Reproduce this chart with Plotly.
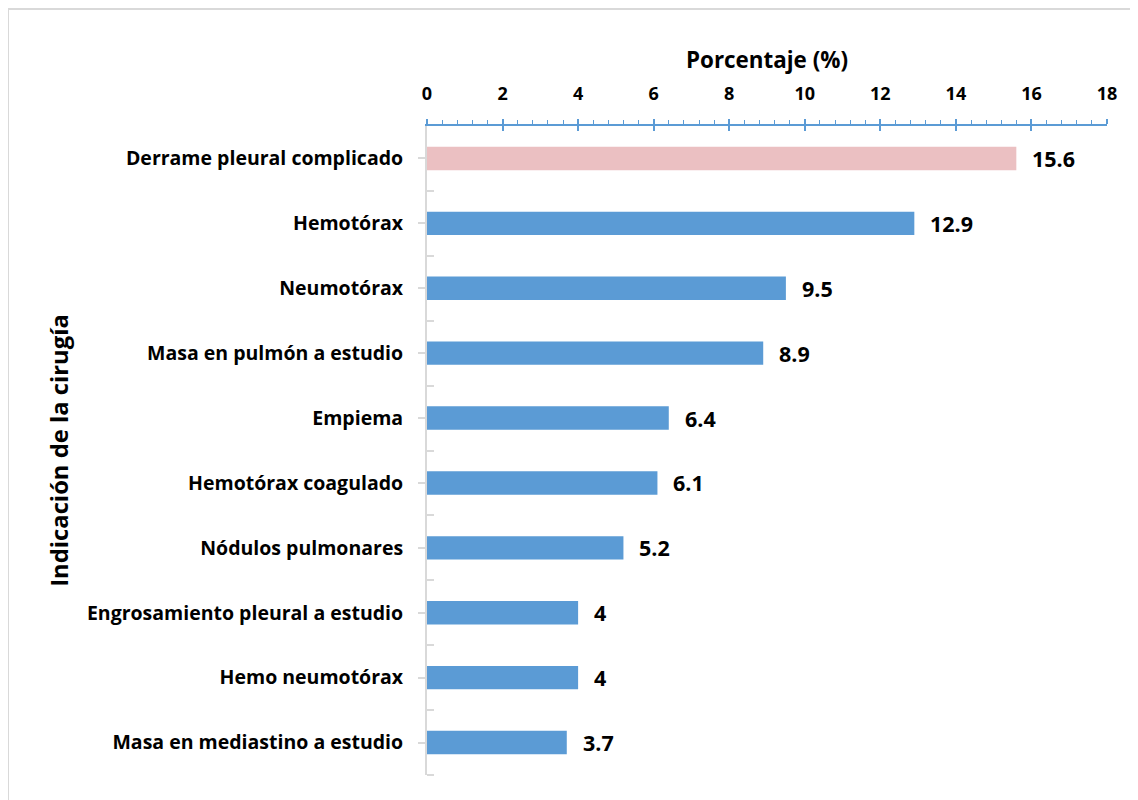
import plotly.graph_objects as go

categories = ["Derrame pleural complicado", "Hemotórax", "Neumotórax", "Masa en pulmón a estudio",
              "Empiema", "Hemotórax coagulado", "Nódulos pulmonares",
              "Engrosamiento pleural a estudio", "Hemo neumotórax", "Masa en mediastino a estudio"]
values = [15.6, 12.9, 9.5, 8.9, 6.4, 6.1, 5.2, 4, 4, 3.7]
value_labels = ["15.6", "12.9", "9.5", "8.9", "6.4", "6.1", "5.2", "4", "4", "3.7"]
x_ticks = [0, 2, 4, 6, 8, 10, 12, 14, 16, 18]

FONT = "Open Sans"
TFONT = "Liberation Sans, Arial, sans-serif"
BLUE = "#5B9BD5"
PINK = "#EBC0C2"
colors = [PINK] + [BLUE] * (len(values) - 1)
pos = list(range(len(categories)))

fig = go.Figure()
fig.add_trace(go.Bar(
    x=values, y=pos, orientation="h", width=0.36,
    marker=dict(color=colors, line=dict(width=0)),
    hoverinfo="skip", showlegend=False,
))
for v, p, t in zip(values, pos, value_labels):
    fig.add_annotation(x=v, y=p, text=t, showarrow=False, xanchor="left", xshift=14,
                       font=dict(family=FONT, size=21.5, color="black", weight="bold"))

# page body has an 8px margin, so the figure is drawn 8px in from the top-left
OFF = 8
W, H = 1138 - OFF, 800 - OFF
L, R, T, B = 427 - OFF, 31, 126 - OFF, 25
pw, ph = W - L - R, H - T - B

fig.update_layout(
    width=W, height=H,
    margin=dict(l=L, r=R, t=T, b=B),
    paper_bgcolor="white", plot_bgcolor="white",
    font=dict(family=FONT, color="black"),
    xaxis=dict(
        side="top", range=[0, 18], tickvals=x_ticks,
        showgrid=False, zeroline=False,
        showline=True, linecolor=BLUE, linewidth=1.5,
        ticks="outside", ticklen=5, tickcolor=BLUE, tickwidth=1.5,
        minor=dict(dtick=0.4, ticks="outside", ticklen=4, tickcolor=BLUE, tickwidth=1),
        tickfont=dict(family=FONT, size=18, color="black", weight="bold"),
        ticklabelstandoff=12,
        title=dict(text="Porcentaje (%)", font=dict(family=FONT, size=22.4, color="black", weight="bold"), standoff=6),
    ),
    xaxis2=dict(
        overlaying="x", side="top", range=[0, 18], tickvals=x_ticks,
        showgrid=False, zeroline=False, showline=False, showticklabels=False,
        ticks="inside", ticklen=5, tickcolor=BLUE, tickwidth=1.5,
    ),
    yaxis=dict(
        range=[9.5, -0.5], tickvals=pos, ticktext=categories,
        showgrid=False, zeroline=False,
        showline=True, linecolor="#D9D9D9", linewidth=2,
        ticks="outside", ticklen=7, tickcolor="#D9D9D9", tickwidth=1.5,
        minor=dict(tickvals=[p + 0.5 for p in pos], ticks="inside", ticklen=7, tickcolor="#D9D9D9", tickwidth=1.5),
        tickfont=dict(family=FONT, size=19.5, color="black", weight="bold"),
        ticklabelstandoff=11,
        title=dict(text="Indicación de la cirugía", font=dict(family=FONT, size=23.8, color="black", weight="bold"), standoff=12),
    ),
)
fig.add_trace(go.Scatter(x=[None], y=[None], xaxis="x2", showlegend=False, hoverinfo="skip"))

bx = (7 - OFF - L + 1) / pw
by = (H - B - (8 - OFF) - 1) / ph
fig.add_shape(type="line", xref="paper", yref="paper", x0=bx, x1=bx, y0=-B / ph - 0.01, y1=by,
              line=dict(color="#D9D9D9", width=2))
fig.add_shape(type="line", xref="paper", yref="paper", x0=bx, x1=(W - L) / pw + 0.01, y0=by, y1=by,
              line=dict(color="#D9D9D9", width=2))

fig.write_html("out.html")
